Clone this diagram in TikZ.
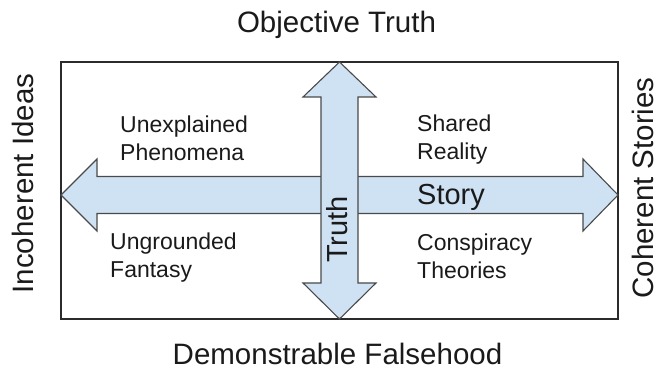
\documentclass[tikz,border=0pt]{standalone}
\usepackage{fontspec}
\setmainfont{Liberation Sans}
\begin{document}
\begin{tikzpicture}[x=1pt,y=-1pt,
  blockarrow/.style={fill=arrowfill,draw=arrowline,line width=1.1pt,line join=miter},
  frame/.style={draw=framecol,line width=1.1pt},
  axislabel/.style={inner sep=0pt,text=txt,font=\fontsize{29.5}{33}\selectfont},
  arrowlabel/.style={inner sep=0pt,text=txt,font=\fontsize{29}{33}\selectfont},
  quadlabel/.style={inner sep=0pt,text=txt,align=left,anchor=north west,
    font=\fontsize{23}{27.5}\selectfont}]
\definecolor{arrowfill}{HTML}{CFE2F3}
\definecolor{arrowline}{HTML}{4A4A4A}
\definecolor{framecol}{HTML}{2B2B2B}
\definecolor{txt}{HTML}{1A1A1A}
\useasboundingbox (0,0) rectangle (659,371);

% outer frame
\draw[frame] (61,62) rectangle (618,319);

% horizontal double arrow (Story axis)
\draw[blockarrow] (61,195) -- (97,159) -- (97,176.5) -- (583,176.5) -- (583,159)
  -- (618,195) -- (583,231) -- (583,213.5) -- (97,213.5) -- (97,231) -- cycle;

% vertical double arrow (Truth axis), drawn over the horizontal one
\draw[blockarrow] (339.5,62) -- (376,97) -- (358,97) -- (358,283) -- (376,283)
  -- (339.5,319) -- (303,283) -- (321,283) -- (321,97) -- (303,97) -- cycle;

% axis end labels
\node[axislabel,anchor=base] (top) at (336.5,33) {Objective Truth};
\node[axislabel,anchor=base] (bottom) at (337.5,365) {Demonstrable Falsehood};
\node[axislabel,anchor=base,rotate=90] (left) at (33,183.5) {Incoherent Ideas};
\node[axislabel,anchor=base,rotate=90] (right) at (653,188) {Coherent Stories};

% labels on the arrows
\node[arrowlabel,anchor=base west] (story) at (417,205) {Story};
\node[arrowlabel,anchor=base,rotate=90] (truth) at (347,229.5) {Truth};

% quadrant labels
\node[quadlabel] (ul) at (120,116) {Unexplained\\Phenomena};
\node[quadlabel] (ur) at (417,115) {Shared\\Reality};
\node[quadlabel] (ll) at (110,233) {Ungrounded\\Fantasy};
\node[quadlabel] (lr) at (417,234) {Conspiracy\\Theories};
\end{tikzpicture}
\end{document}
